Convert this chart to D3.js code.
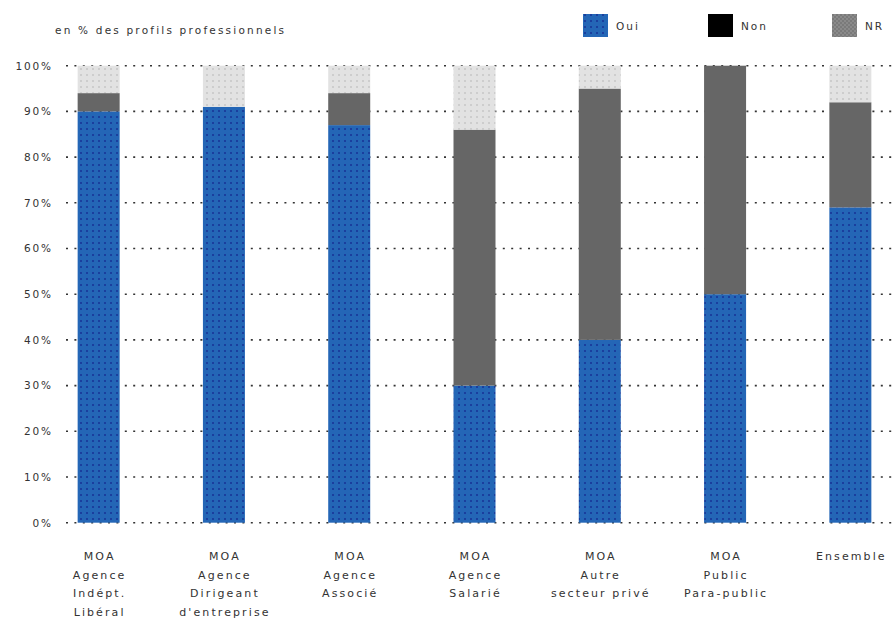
<!DOCTYPE html>
<html><head><meta charset="utf-8">
<script src="https://cdn.jsdelivr.net/npm/d3@7"></script>
<style>body{margin:0;background:#fff}svg{display:block}text{font-family:"DejaVu Sans",sans-serif;fill:#333}</style>
</head><body>
<svg id="c" width="896" height="619"></svg>
<script>
const categories = [
  ["MOA","Agence","Indépt.","Libéral"],
  ["MOA","Agence","Dirigeant","d'entreprise"],
  ["MOA","Agence","Associé"],
  ["MOA","Agence","Salarié"],
  ["MOA","Autre","secteur privé"],
  ["MOA","Public","Para-public"],
  ["Ensemble"]
];
const oui = [90, 91, 87, 30, 40, 50, 69];
const non = [4, 0, 7, 56, 55, 50, 23];
const nr  = [6, 9, 6, 14, 5, 0, 8];
const seriesNames = ["Oui","Non","NR"];
const yTicks = [0,10,20,30,40,50,60,70,80,90,100];

const svg = d3.select("#c");
const defs = svg.append("defs");
const pb = defs.append("pattern").attr("id","pBlue").attr("width",6).attr("height",6).attr("patternUnits","userSpaceOnUse");
pb.append("rect").attr("width",6).attr("height",6).attr("fill","#2466b6");
pb.append("rect").attr("x",2).attr("y",2).attr("width",2).attr("height",2).attr("fill","#1a3f9e");
const pg = defs.append("pattern").attr("id","pGrey").attr("width",6).attr("height",6).attr("patternUnits","userSpaceOnUse");
pg.append("rect").attr("width",6).attr("height",6).attr("fill","#e2e2e2");
pg.append("rect").attr("x",2).attr("y",2).attr("width",2).attr("height",2).attr("fill","#cdcdcd");
const pn = defs.append("pattern").attr("id","pNR").attr("width",4).attr("height",4).attr("patternUnits","userSpaceOnUse");
pn.append("rect").attr("width",4).attr("height",4).attr("fill","#7a7a7a");
pn.append("rect").attr("width",2).attr("height",2).attr("fill","#8a8a8a");
pn.append("rect").attr("x",2).attr("y",2).attr("width",2).attr("height",2).attr("fill","#8a8a8a");

const y = d3.scaleLinear().domain([0,100]).range([522.7, 65.7]);
const x = d3.scaleBand().domain(d3.range(categories.length)).range([36, 913]).padding(0);
const bw = 42;

// grid
const grid = svg.append("g");
grid.selectAll("line").data(yTicks).join("line")
  .attr("x1",66).attr("x2",896)
  .attr("y1",d=>y(d)).attr("y2",d=>y(d))
  .attr("stroke","#333").attr("stroke-width",1.6)
  .attr("stroke-dasharray","2,6.4");

// y axis labels
const yAxis = d3.axisLeft(y).tickValues(yTicks).tickFormat(d=>d+"%").tickSize(0).tickPadding(0);
const ga = svg.append("g").attr("transform","translate(53,0)").call(yAxis);
ga.select(".domain").remove();
ga.selectAll("text").attr("font-size",10.5).attr("letter-spacing",1.9).attr("fill","#333").style("font-family","DejaVu Sans");

// bars
const stackData = categories.map((c,i)=>({i, Oui:oui[i], Non:non[i], NR:nr[i]}));
const stack = d3.stack().keys(seriesNames)(stackData);
const fills = {Oui:"url(#pBlue)", Non:"#666666", NR:"url(#pGrey)"};
svg.append("g").selectAll("g").data(stack).join("g")
  .attr("fill",d=>fills[d.key])
  .selectAll("rect").data(d=>d).join("rect")
  .attr("x",d=>x(d.data.i)+(x.bandwidth()-bw)/2)
  .attr("width",bw)
  .attr("y",d=>y(d[1]))
  .attr("height",d=>Math.max(0,y(d[0])-y(d[1])));

// x labels
const xl = svg.append("g");
categories.forEach((lines,i)=>{
  const cx = x(i)+x.bandwidth()/2 + 1;
  const t = xl.append("text").attr("text-anchor","middle").attr("font-size",11).attr("letter-spacing",2.1)
    .attr("x",cx).attr("y",560);
  lines.forEach((l,j)=>t.append("tspan").attr("x",cx).attr("y",560+j*18.5).text(l));
});

// title
svg.append("text").attr("x",55).attr("y",34).attr("font-size",10.5).attr("letter-spacing",2.2)
  .text("en % des profils professionnels");

// legend
const legX = [583, 708, 832];
const legFills = ["url(#pBlue)","#000","url(#pNR)"];
seriesNames.forEach((s,i)=>{
  svg.append("rect").attr("x",legX[i]).attr("y",14).attr("width",25).attr("height",23).attr("fill",legFills[i]);
  svg.append("text").attr("x",legX[i]+33).attr("y",30).attr("font-size",10.5).attr("letter-spacing",2).text(s);
});
</script>
</body></html>
